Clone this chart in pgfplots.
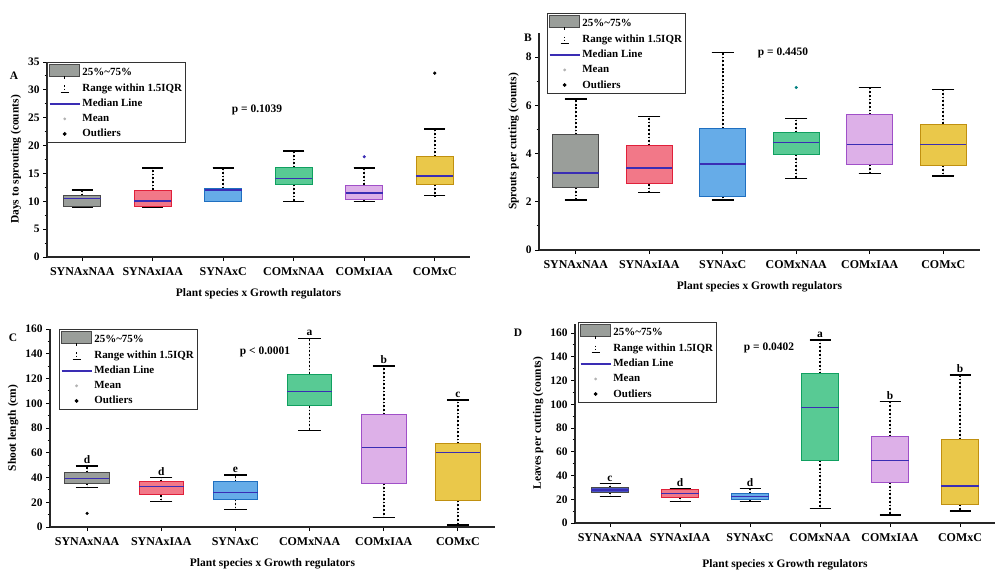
\documentclass[border=0pt]{standalone}
\usepackage{pgfplots}
\pgfplotsset{compat=1.18}
\usepgfplotslibrary{statistics}
\usepackage{fontspec}
\setmainfont{Liberation Serif}

\definecolor{egray}{HTML}{4A4A4A}\definecolor{fgray}{HTML}{9A9E9A}
\definecolor{ered}{HTML}{E0203A}\definecolor{fred}{HTML}{F27888}
\definecolor{eblue}{HTML}{1F6FC0}\definecolor{fblue}{HTML}{66ACE8}
\definecolor{egreen}{HTML}{10A060}\definecolor{fgreen}{HTML}{58CA94}
\definecolor{epurp}{HTML}{A050C8}\definecolor{fpurp}{HTML}{DDB0E8}
\definecolor{egold}{HTML}{C09010}\definecolor{fgold}{HTML}{EAC84A}
\definecolor{medblue}{HTML}{3A2DB4}

\pgfplotsset{
  boxplot/draw/lower whisker/.code={%
    \draw[black, dotted, line width=1.7pt]
      (boxplot box cs:\pgfplotsboxplotvalue{lower quartile},0.5) --
      (boxplot box cs:\pgfplotsboxplotvalue{lower whisker},0.5);
    \draw[black, solid, line width=1.3pt]
      (boxplot whisker cs:\pgfplotsboxplotvalue{lower whisker},0) --
      (boxplot whisker cs:\pgfplotsboxplotvalue{lower whisker},1);
  },
  boxplot/draw/upper whisker/.code={%
    \draw[black, dotted, line width=1.7pt]
      (boxplot box cs:\pgfplotsboxplotvalue{upper quartile},0.5) --
      (boxplot box cs:\pgfplotsboxplotvalue{upper whisker},0.5);
    \draw[black, solid, line width=1.3pt]
      (boxplot whisker cs:\pgfplotsboxplotvalue{upper whisker},0) --
      (boxplot whisker cs:\pgfplotsboxplotvalue{upper whisker},1);
  },
  boxplot/every median/.style={medblue, solid, line width=1.6pt},
  panel/.style={
    scale only axis,
    boxplot/draw direction=y,
    axis x line=bottom, axis y line=left,
    axis line style={-, line width=1.3pt, black!85},
    xmin=0.5, xmax=6.5, ymin=0,
    xtick={1,...,6},
    xticklabels={SYNAxNAA,SYNAxIAA,SYNAxC,COMxNAA,COMxIAA,COMxC},
    tick style={black, line width=1pt},
    major tick length=4bp, minor tick length=2.5bp,
    tick align=outside,
    minor y tick num=1,
    ticklabel style={font=\fontsize{11.5}{12}\selectfont\bfseries},
    x tick label style={font=\fontsize{12}{13}\selectfont\bfseries, yshift=-3bp},
    /pgf/number format/assume math mode=true,
    label style={font=\fontsize{11.5}{12}\selectfont\bfseries},
    xlabel={Plant species x Growth regulators},
    xlabel style={yshift=-6bp},
    boxplot/whisker extend=0.3,
    legend cell align=left,
    legend style={draw=black!80, line width=0.9pt, fill=white,
      font=\fontsize{11}{12}\selectfont\bfseries, inner sep=1.5bp,
      row sep=2.2bp, anchor=north west},
  },
  boxleg/.style={legend image code/.code={%
    \path[draw=none, fill=none] (0bp,-7bp) rectangle (30bp,8bp);
    \draw[fill=fgray, draw=egray, line width=0.8pt] (0bp,-4bp) rectangle (30bp,8bp);
    \draw[black, line width=0.8pt] (15bp,-4bp) -- (15bp,-7bp);}},
  whiskleg/.style={legend image code/.code={%
    \path[draw=none, fill=none] (0bp,-5bp) rectangle (30bp,5bp);
    \draw[black, dotted, line width=1.2pt] (15bp,3bp) -- (15bp,-3bp);
    \draw[black, solid, line width=1pt] (11bp,-4bp) -- (19bp,-4bp);}},
  medleg/.style={legend image code/.code={%
    \path[draw=none, fill=none] (0bp,-5bp) rectangle (30bp,5bp);
    \draw[medblue, line width=1.5pt] (0bp,0bp) -- (30bp,0bp);}},
  meanleg/.style={legend image code/.code={%
    \path[draw=none, fill=none] (0bp,-5bp) rectangle (30bp,5bp);
    \fill[black!30] (15bp,0bp) circle (0.9bp);}},
  outleg/.style={legend image code/.code={%
    \path[draw=none, fill=none] (0bp,-5bp) rectangle (30bp,5bp);
    \fill[black] (15bp,0bp) circle (1.4bp);}},
}

\newcommand{\legendset}{%
  \addlegendimage{boxleg}\addlegendentry{25\%\textasciitilde75\%}
  \addlegendimage{whiskleg}\addlegendentry{Range within 1.5IQR}
  \addlegendimage{medleg}\addlegendentry{Median Line}
  \addlegendimage{meanleg}\addlegendentry{Mean}
  \addlegendimage{outleg}\addlegendentry{Outliers}}

% \bx{pos}{edge}{fill}{lw}{lq}{med}{uq}{uw}
\newcommand{\bx}[8]{%
  \addplot[draw=#2, fill=#3, line width=1pt,
    boxplot prepared={draw position=#1, lower whisker=#4, lower quartile=#5,
      median=#6, upper quartile=#7, upper whisker=#8}] coordinates {};}

\begin{document}
\begin{tikzpicture}[x=1bp,y=1bp]
\path[use as bounding box] (0,0) rectangle (996,-572);

% ---------------- Panel A
\begin{axis}[panel, at={(47bp,-257bp)}, anchor=south west,
  width=423bp, height=195bp, ymax=35, ytick={0,5,...,35},
  ylabel={Days to sprouting (counts)}, boxplot/box extend=0.52,
  legend style={at={(0,1)}}]
\legendset
\bx{1}{egray}{fgray}{9}{9}{10.5}{11}{12}
\bx{2}{ered}{fred}{9}{9}{10}{12}{16}
\bx{3}{eblue}{fblue}{10}{10}{12}{12.3}{16}
\bx{4}{egreen}{fgreen}{10}{13}{14.1}{16}{19}
\bx{5}{epurp}{fpurp}{10}{10.4}{11.5}{12.9}{16}
\bx{6}{egold}{fgold}{11}{13}{14.5}{18}{23}
\addplot[only marks, mark=*, mark size=1.4bp, medblue] coordinates {(5,18)};
\addplot[only marks, mark=*, mark size=1.4bp, black] coordinates {(6,33)};
\end{axis}

% ---------------- Panel B
\begin{axis}[panel, at={(539bp,-250bp)}, anchor=south west,
  width=441bp, height=217bp, ymax=9, ytick={0,2,...,8},
  ylabel={Sprouts per cutting (counts)}, boxplot/box extend=0.63,
  legend style={at={(0.018,1.092)}}]
\legendset
\bx{1}{egray}{fgray}{2.07}{2.6}{3.2}{4.77}{6.26}
\bx{2}{ered}{fred}{2.38}{2.74}{3.41}{4.33}{5.53}
\bx{3}{eblue}{fblue}{2.07}{2.21}{3.56}{5.04}{8.19}
\bx{4}{egreen}{fgreen}{2.97}{3.97}{4.46}{4.88}{5.46}
\bx{5}{epurp}{fpurp}{3.18}{3.56}{4.38}{5.6}{6.74}
\bx{6}{egold}{fgold}{3.07}{3.52}{4.38}{5.22}{6.66}
\addplot[only marks, mark=*, mark size=1.4bp, teal] coordinates {(4,6.74)};
\end{axis}

% ---------------- Panel C
\begin{axis}[panel, at={(50bp,-527bp)}, anchor=south west,
  width=445bp, height=198bp, ymax=160, ytick={0,20,...,160},
  ylabel={Shoot length (cm)}, boxplot/box extend=0.6,
  legend style={at={(0.02,1.0)}}]
\legendset
\bx{1}{egray}{fgray}{32.1}{35.3}{39.3}{43.9}{49.3}
\bx{2}{ered}{fred}{20.5}{25.9}{32.6}{36.6}{40.1}
\bx{3}{eblue}{fblue}{14.3}{22.3}{28}{36.6}{42}
\bx{4}{egreen}{fgreen}{77.8}{97.8}{109.4}{123.6}{152.5}
\bx{5}{epurp}{fpurp}{7.8}{35.3}{64.1}{91}{130.1}
\bx{6}{egold}{fgold}{1.6}{21.3}{60.3}{67.1}{102.6}
\addplot[only marks, mark=*, mark size=1.4bp, black] coordinates {(1,11)};
\foreach \p/\v/\l in {1/49.3/d,2/40.1/d,3/42/e,4/152.5/a,5/130.1/b,6/102.6/c}{
  \edef\tmp{\noexpand\node[anchor=south, inner sep=2bp, font=\noexpand\fontsize{11.5}{12}\noexpand\selectfont\noexpand\bfseries] at (axis cs:\p,\v) {\l};}\tmp}
\end{axis}

% ---------------- Panel D
\begin{axis}[panel, at={(575bp,-523bp)}, anchor=south west,
  width=420bp, height=199.5bp, ymax=168, ytick={0,20,...,160},
  ylabel={Leaves per cutting (counts)}, boxplot/box extend=0.53,
  xlabel style={yshift=-5bp},
  legend style={at={(0.007,1.007)}}]
\legendset
\bx{1}{egray}{medblue!70!fblue}{22.2}{25.5}{27.8}{30}{33.4}
\bx{2}{ered}{fred}{17.9}{21.6}{25}{27.8}{29.2}
\bx{3}{eblue}{fblue}{18.4}{20}{22.2}{25}{29.2}
\bx{4}{egreen}{fgreen}{12.4}{52.5}{97.1}{125.5}{154}
\bx{5}{epurp}{fpurp}{6.7}{34.2}{52.5}{72.7}{102.2}
\bx{6}{egold}{fgold}{10.1}{15.7}{31.4}{70.5}{124.6}
\foreach \p/\v/\l in {1/33.4/c,2/29.2/d,3/29.2/d,4/154/a,5/102.2/b,6/124.6/b}{
  \edef\tmp{\noexpand\node[anchor=south, inner sep=2bp, font=\noexpand\fontsize{11.5}{12}\noexpand\selectfont\noexpand\bfseries] at (axis cs:\p,\v) {\l};}\tmp}
\end{axis}

% panel letters and p-values
\begin{scope}[every node/.style={font=\fontsize{11.5}{12}\selectfont\bfseries}]
\node at (14,-76) {A};
\node at (528,-38) {B};
\node at (13,-338) {C};
\node at (518,-333) {D};
\node at (257,-110) {p = 0.1039};
\node at (783,-53) {p = 0.4450};
\node at (265,-352) {p < 0.0001};
\node at (769,-348) {p = 0.0402};
\end{scope}
\end{tikzpicture}
\end{document}
